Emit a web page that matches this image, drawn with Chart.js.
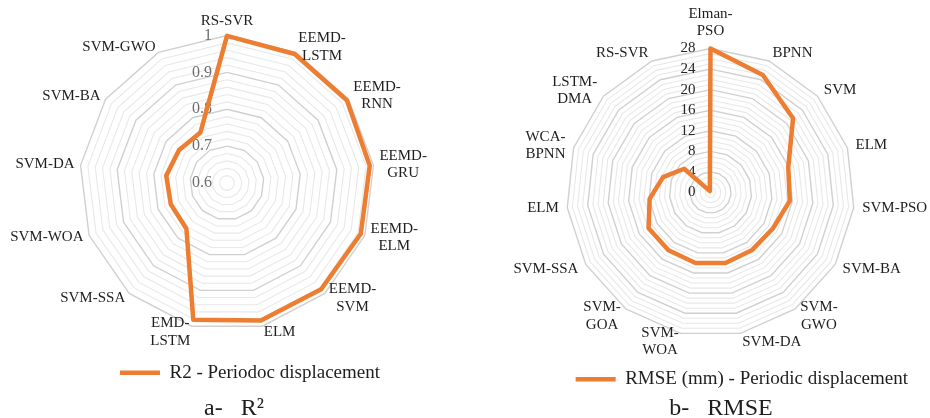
<!DOCTYPE html>
<html>
<head>
<meta charset="utf-8">
<script src="https://cdn.jsdelivr.net/npm/chart.js@4.4.1/dist/chart.umd.min.js"></script>
<style>
  html, body { margin: 0; padding: 0; background: #ffffff; }
  #wrap { display: flex; width: 930px; height: 418px; }
  .cell { width: 465px; height: 418px; }
  canvas { display: block; }
</style>
</head>
<body>
<div id="wrap">
  <div class="cell"><canvas id="r2Chart" width="465" height="418"></canvas></div>
  <div class="cell"><canvas id="rmseChart" width="465" height="418"></canvas></div>
</div>
<script>
// ---- R² of the periodic displacement, per model ----
const r2Models = [
  'RS-SVR', ['EEMD-', 'LSTM'], ['EEMD-', 'RNN'], ['EEMD-', 'GRU'], ['EEMD-', 'ELM'],
  ['EEMD-', 'SVM'], 'ELM', ['EMD-', 'LSTM'], 'SVM-SSA', 'SVM-WOA', 'SVM-DA', 'SVM-BA', 'SVM-GWO'
];
const r2Values = [0.999, 0.995, 0.995, 0.990, 0.988, 0.985, 0.984, 0.982, 0.766, 0.763, 0.766, 0.758, 0.755];
const r2Ticks = [0.6, 0.7, 0.8, 0.9, 1];

// ---- RMSE (mm) of the periodic displacement, per model ----
const rmseModels = [
  ['Elman-', 'PSO'], 'BPNN', 'SVM', 'ELM', 'SVM-PSO', 'SVM-BA', ['SVM-', 'GWO'], 'SVM-DA',
  ['SVM-', 'WOA'], ['SVM-', 'GOA'], 'SVM-SSA', 'ELM', ['WCA-', 'BPNN'], ['LSTM-', 'DMA'], 'RS-SVR'
];
const rmseValues = [28, 25.0, 21.6, 15.9, 15.5, 14.0, 13.8, 14.0, 14.0, 13.9, 13.9, 11.9, 9.7, 6.9, 0.3];
const rmseTicks = [0, 4, 8, 12, 16, 20, 24, 28];

const ORANGE = '#ED7D31';
const SERIF = "'Liberation Serif', 'Times New Roman', serif";

// Tick numbers beside the vertical axis and the model names around the web.
function radarText(cfg) {
  return {
    id: 'radarText',
    beforeDatasetsDraw(chart) {
      const s = chart.scales.r;
      const ctx = chart.ctx;
      ctx.save();
      ctx.font = cfg.tickFont;
      ctx.fillStyle = cfg.tickColor;
      ctx.textAlign = 'right';
      ctx.textBaseline = 'middle';
      cfg.ticks.forEach(v => {
        const y = s.yCenter - s.getDistanceFromCenterForValue(v);
        ctx.fillText(String(v), s.xCenter - cfg.tickGap, y);
      });
      ctx.restore();
    },
    afterDatasetsDraw(chart) {
      const s = chart.scales.r;
      const ctx = chart.ctx;
      ctx.save();
      ctx.font = cfg.labelFont;
      ctx.fillStyle = '#1e1e1e';
      ctx.textBaseline = 'middle';
      ctx.textAlign = 'center';
      chart.data.labels.forEach((label, i) => {
        const lines = Array.isArray(label) ? label : [label];
        const p = s.getPointPosition(i, s.drawingArea + cfg.labelGap);
        const horiz = Math.cos(p.angle);
        const blockW = Math.max(...lines.map(t => ctx.measureText(t).width));
        const blockH = lines.length * cfg.lineHeight;
        let cx, top;
        if (Math.abs(horiz) < 0.05) {
          cx = p.x;
          top = p.y < s.yCenter ? p.y - blockH : p.y;
        } else {
          cx = horiz > 0 ? p.x + blockW / 2 : p.x - blockW / 2;
          top = p.y - blockH / 2;
        }
        lines.forEach((t, k) => ctx.fillText(t, cx, top + cfg.lineHeight * (k + 0.5)));
      });
      ctx.restore();
    }
  };
}

function isMultiple(v, step) {
  const q = v / step;
  return Math.abs(q - Math.round(q)) < 1e-6;
}

function makeRadar(id, p) {
  return new Chart(document.getElementById(id), {
    type: 'radar',
    data: {
      labels: p.labels,
      datasets: [{
        label: p.series,
        data: p.values,
        borderColor: ORANGE,
        backgroundColor: ORANGE,
        borderWidth: 4.5,
        borderJoinStyle: 'round',
        borderCapStyle: 'round',
        fill: false,
        pointRadius: 0,
        pointHoverRadius: 0,
        clip: false
      }]
    },
    options: {
      responsive: false,
      animation: false,
      events: [],
      layout: { padding: p.padding },
      scales: {
        r: {
          min: p.min,
          max: p.max,
          afterFit: (scale) => {
            scale.xCenter = p.center[0];
            scale.yCenter = p.center[1];
            scale.drawingArea = p.radius;
          },
          ticks: { display: false, stepSize: p.minorStep },
          pointLabels: { display: false },
          angleLines: { display: false },
          grid: {
            circular: false,
            color: (c) => isMultiple(c.tick.value, p.majorStep) ? '#d0d0d0' : '#e8e8e8',
            lineWidth: (c) => isMultiple(c.tick.value, p.majorStep) ? 1.4 : 1.1
          }
        }
      },
      plugins: {
        tooltip: { enabled: false },
        legend: {
          position: 'bottom',
          align: 'end',
          labels: {
            usePointStyle: true,
            pointStyle: 'line',
            pointStyleWidth: 40,
            padding: 10,
            color: '#1e1e1e',
            font: { family: SERIF, size: 19 }
          }
        },
        title: {
          display: true,
          position: 'bottom',
          text: p.caption,
          color: '#1e1e1e',
          padding: { top: p.captionLift, bottom: 0 },
          font: { family: SERIF, size: 24, weight: 'normal', lineHeight: 0.8 }
        }
      }
    },
    plugins: [radarText(p.text)]
  });
}

makeRadar('r2Chart', {
  labels: r2Models,
  values: r2Values,
  series: 'R2 - Periodoc displacement',
  caption: 'a-   R\u00B2',
  min: 0.6, max: 1, minorStep: 0.02, majorStep: 0.1,
  center: [227, 183], radius: 147.5,
  padding: { left: 78, right: 75, top: 0, bottom: 0 },
  captionLift: 6.6,
  text: {
    ticks: r2Ticks, tickFont: '16px ' + SERIF, tickColor: '#6e6e6e', tickGap: 15,
    labelFont: '15px ' + SERIF, labelGap: 6, lineHeight: 17.5
  }
});

makeRadar('rmseChart', {
  labels: rmseModels,
  values: rmseValues,
  series: 'RMSE (mm) - Periodic displacement',
  caption: 'b-   RMSE',
  min: 0, max: 28, minorStep: 1, majorStep: 4,
  center: [245.5, 192.5], radius: 144,
  padding: { left: 59, right: 12, top: 0, bottom: 0 },
  captionLift: 0,
  text: {
    ticks: rmseTicks, tickFont: '15px ' + SERIF, tickColor: '#262626', tickGap: 15,
    labelFont: '15px ' + SERIF, labelGap: 8.5, lineHeight: 17.5
  }
});
</script>
</body>
</html>
